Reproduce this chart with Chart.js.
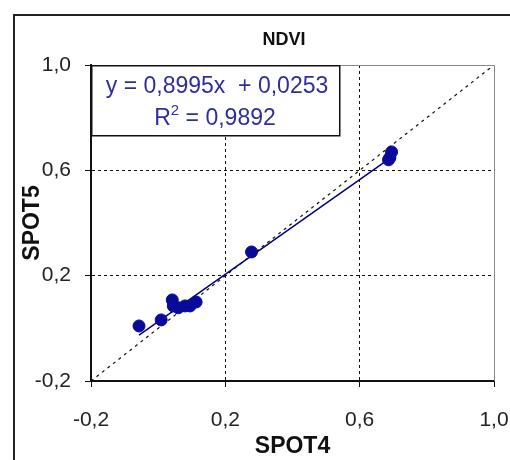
<!DOCTYPE html>
<html>
<head>
<meta charset="utf-8">
<script src="https://cdn.jsdelivr.net/npm/chart.js@4/dist/chart.umd.min.js"></script>
<style>
  html, body { margin: 0; padding: 0; background: #fff; }
  #wrap { width: 510px; height: 460px; }
</style>
</head>
<body>
<div id="wrap"><canvas id="ndviChart" width="510" height="460"></canvas></div>
<script>
// values
const spot4 = [-0.057, 0.009, 0.042, 0.045, 0.060, 0.080, 0.095, 0.113, 0.278, 0.686, 0.690, 0.695];
const spot5 = [0.009, 0.032, 0.108, 0.085, 0.078, 0.085, 0.085, 0.100, 0.290, 0.640, 0.648, 0.670];
const fitSlope = 0.8995;
const fitIntercept = 0.0253;
const rSquared = 0.9892;
const diagonal = [-0.2, 1.0];
const tickValues = [-0.2, 0.2, 0.6, 1.0];

const FONT = 'Arial, "Liberation Sans", sans-serif';

function fmt(v) {
    return v.toFixed(4).replace('.', ',');
}

const points = spot4.map((x, i) => ({ x: x, y: spot5[i] }));
const xMin = Math.min(...spot4);
const xMax = Math.max(...spot4);
const fitLine = [
    { x: xMin, y: fitSlope * xMin + fitIntercept },
    { x: xMax, y: fitSlope * xMax + fitIntercept }
];
const diagLine = diagonal.map(v => ({ x: v, y: v }));

// frame, title, plot border and equation box
const decorations = {
    id: 'decorations',
    beforeDraw(chart) {
        const ctx = chart.ctx;
        ctx.save();
        ctx.fillStyle = '#fff';
        ctx.fillRect(0, 0, chart.width, chart.height);
        ctx.strokeStyle = '#222';
        ctx.lineWidth = 2;
        ctx.strokeRect(14, 15, chart.width + 10, chart.height + 10);
        ctx.restore();
    },
    afterDatasetsDraw(chart) {
        const ctx = chart.ctx;
        const a = chart.chartArea;
        ctx.save();
        // top / right plot border
        ctx.strokeStyle = '#888';
        ctx.lineWidth = 1;
        ctx.beginPath();
        ctx.moveTo(a.left, a.top + 0.5);
        ctx.lineTo(a.right + 0.5, a.top + 0.5);
        ctx.lineTo(a.right + 0.5, a.bottom);
        ctx.stroke();

        // title
        ctx.fillStyle = '#111';
        ctx.font = 'bold 18px ' + FONT;
        ctx.textAlign = 'center';
        ctx.textBaseline = 'middle';
        ctx.fillText('NDVI', 284, 40);

        // equation box
        const bx = a.left, by = a.top, bw = 248, bh = 70;
        ctx.fillStyle = '#fff';
        ctx.fillRect(bx, by, bw, bh);
        ctx.strokeStyle = '#111';
        ctx.lineWidth = 1.5;
        ctx.strokeRect(bx + 0.75, by + 0.75, bw, bh);
        ctx.fillStyle = '#2e2e9e';
        ctx.font = '23px ' + FONT;
        ctx.fillText('y = ' + fmt(fitSlope) + 'x  + ' + fmt(fitIntercept), bx + bw / 2 + 2, by + 22);

        // R² line with a raised 2
        const rest = ' = ' + fmt(rSquared);
        const wR = ctx.measureText('R').width;
        const wRest = ctx.measureText(rest).width;
        ctx.font = '15px ' + FONT;
        const w2 = ctx.measureText('2').width;
        let x = bx + bw / 2 - (wR + w2 + wRest) / 2;
        const yLine = by + 54;
        ctx.textAlign = 'left';
        ctx.font = '23px ' + FONT;
        ctx.fillText('R', x, yLine);
        ctx.font = '15px ' + FONT;
        ctx.fillText('2', x + wR, yLine - 8);
        ctx.font = '23px ' + FONT;
        ctx.fillText(rest, x + wR + w2, yLine);
        ctx.restore();
    }
};

const ctx = document.getElementById('ndviChart').getContext('2d');

const chart = new Chart(ctx, {
    type: 'scatter',
    data: {
        datasets: [
            {
                label: '1:1',
                data: diagLine,
                showLine: true,
                borderColor: '#111',
                borderWidth: 1.2,
                borderDash: [3, 4],
                pointRadius: 0,
                order: 3
            },
            {
                label: 'fit',
                data: fitLine,
                showLine: true,
                borderColor: '#000080',
                borderWidth: 1.5,
                pointRadius: 0,
                order: 2
            },
            {
                label: 'SPOT5',
                data: points,
                backgroundColor: '#0a0a9a',
                borderColor: '#0a0a9a',
                pointRadius: 6,
                order: 1
            }
        ]
    },
    options: {
        responsive: false,
        animation: false,
        layout: {
            padding: { left: 14, right: 0, top: 65, bottom: 0 }
        },
        plugins: {
            legend: { display: false },
            tooltip: { enabled: false }
        },
        scales: {
            x: {
                type: 'linear',
                min: -0.2,
                max: 1.0,
                afterFit(scale) {
                    scale.height = 79;
                    scale.paddingLeft = 0;
                    scale.paddingRight = 16;
                },
                afterBuildTicks(scale) { scale.ticks = tickValues.map(v => ({ value: v })); },
                border: { display: true, color: '#111', width: 2, dash: [3, 3] },
                grid: {
                    color: c => (c.index === 0 || c.index === tickValues.length - 1) ? 'rgba(0,0,0,0)' : '#111',
                    lineWidth: 1,
                    tickColor: '#111',
                    tickLength: 6
                },
                ticks: {
                    color: '#222',
                    font: { size: 21, family: FONT },
                    padding: 21,
                    callback: v => v.toFixed(1).replace('.', ',')
                },
                title: {
                    display: true,
                    text: 'SPOT4',
                    color: '#111',
                    font: { size: 23, weight: 'bold', family: FONT },
                    padding: { top: 4, bottom: 0 }
                }
            },
            y: {
                type: 'linear',
                min: -0.2,
                max: 1.0,
                afterFit(scale) { scale.width = 77; },
                afterBuildTicks(scale) { scale.ticks = tickValues.map(v => ({ value: v })); },
                border: { display: true, color: '#111', width: 2, dash: [3, 3] },
                grid: {
                    color: c => (c.index === 0 || c.index === tickValues.length - 1) ? 'rgba(0,0,0,0)' : '#111',
                    lineWidth: 1,
                    tickColor: '#111',
                    tickLength: 6
                },
                ticks: {
                    color: '#222',
                    font: { size: 21, family: FONT },
                    padding: 14,
                    callback: v => v.toFixed(1).replace('.', ',')
                },
                title: {
                    display: true,
                    text: 'SPOT5',
                    color: '#111',
                    font: { size: 23, weight: 'bold', family: FONT },
                    padding: { top: 5, bottom: 5 }
                }
            }
        }
    },
    plugins: [decorations]
});
</script>
</body>
</html>
